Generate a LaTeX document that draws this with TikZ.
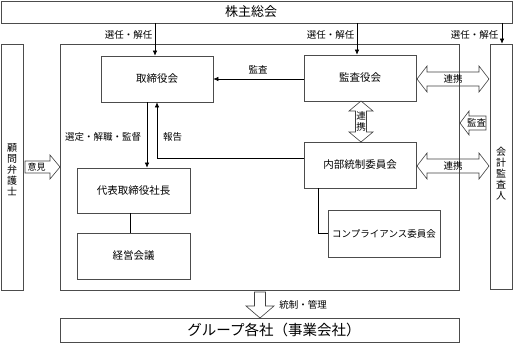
\documentclass[tikz,border=0pt]{standalone}
\usepackage{fontspec}
\newfontfamily\cjk{Noto Sans CJK JP}
\usetikzlibrary{arrows.meta}
\begin{document}
\begin{tikzpicture}[x=1pt,y=-1pt,
  box/.style={draw=black!70, line width=0.7pt, inner sep=0pt, font=\cjk\fontsize{10.5}{12}\selectfont},
  lbl/.style={font=\cjk\fontsize{9.5}{11}\selectfont, inner sep=0pt},
  vlbl/.style={font=\cjk\fontsize{10}{11}\selectfont, inner sep=0pt, align=center},
  conn/.style={line width=0.6pt, black},
  arr/.style={conn, -{Latex[length=5pt,width=4.5pt]}},
  blk/.style={draw=black!75, line width=0.6pt},
]
\useasboundingbox (0,0) rectangle (514,345);
% boxes
\node[box, minimum width=511pt, minimum height=22pt, font=\cjk\fontsize{13}{15}\selectfont] (sh) at (256.5,12) {\hspace*{-11pt}株主総会};
\node[box, minimum width=399pt, minimum height=246pt] (grp) at (259.5,167) {};
\node[box, minimum width=22pt, minimum height=246pt] (komon) at (12,167) {};
\node[box, minimum width=22pt, minimum height=245pt] (kaikei) at (501,166.5) {};
\node[box, minimum width=112pt, minimum height=46pt] (tori) at (157,79) {取締役会};
\node[box, minimum width=112pt, minimum height=46pt] (kansa) at (360,78) {監査役会};
\node[box, minimum width=113pt, minimum height=45pt] (daihyo) at (133.5,190.5) {代表取締役社長};
\node[box, minimum width=113pt, minimum height=46pt] (keiei) at (133.5,256) {経営会議};
\node[box, minimum width=112pt, minimum height=46pt] (naibu) at (360,165) {内部統制委員会};
\node[box, minimum width=112pt, minimum height=47pt, font=\cjk\fontsize{9.5}{11}\selectfont] (comp) at (384,233.5) {コンプライアンス委員会};
\node[box, minimum width=399pt, minimum height=24pt] (group) at (259.5,330) {};
\node[inner sep=0pt, font=\cjk\fontsize{14.5}{16}\selectfont] (grouptext) at (274,330) {グループ各社（事業会社）};
% vertical texts
\node[vlbl] (komontext) at (12,170) {顧\\問\\弁\\護\\士};
\node[vlbl] (kaikeitext) at (501,174) {会\\計\\監\\査\\人};
% connectors
\draw[arr] ([xshift=-2pt]tori.north |- sh.south) -- ([xshift=-2pt]tori.north);
\draw[arr] ([xshift=-3pt]kansa.north |- sh.south) -- ([xshift=-3pt]kansa.north);
\draw[arr] ([xshift=1pt]kaikei.north |- sh.south) -- ([xshift=1pt]kaikei.north);
\draw[arr] (kansa.west |- tori.east) -- (tori.east);
\draw[arr] ([xshift=-10pt]tori.south) -- ([xshift=-10pt]tori.south |- daihyo.north);
\draw[arr] ([yshift=7pt]naibu.west) -| (tori.south);
\draw[conn] ([xshift=-3.5pt]daihyo.south) -- ([xshift=-3.5pt]keiei.north);
\draw[conn] ([xshift=-42pt]naibu.south) |- (comp.west);
% labels
\node[lbl, anchor=east] (l1) at (152.5,35) {選任・解任};
\node[lbl, anchor=east] (l2) at (354.5,35) {選任・解任};
\node[lbl, anchor=east] (l3) at (498.5,35) {選任・解任};
\node[lbl] (lkansa) at (258,70) {監査};
\node[lbl] (lsentei) at (103,137) {選定・解職・監督};
\node[lbl] (lhoukoku) at (172.5,137) {報告};
\node[lbl] (ltousei) at (303,305) {統制・管理};
% block arrows
\draw[blk] (25,161) -- (50,161) -- (50,155) -- (60,167) -- (50,179) -- (50,173) -- (25,173) -- cycle;
\node[lbl, font=\cjk\fontsize{9}{10}\selectfont] (iken) at (36.5,167) {意見};
\draw[blk] (417,79) -- (427,66) -- (427,72) -- (479,72) -- (479,66) -- (489,79) -- (479,92) -- (479,86) -- (427,86) -- (427,92) -- cycle;
\node[lbl] (renkei1) at (453,79) {連携};
\draw[blk] (417,166) -- (427,153) -- (427,159) -- (479,159) -- (479,153) -- (489,166) -- (479,179) -- (479,173) -- (427,173) -- (427,179) -- cycle;
\node[lbl] (renkei2) at (453,166) {連携};
\draw[blk] (460,123) -- (469,111) -- (469,116) -- (486,116) -- (486,130) -- (469,130) -- (469,135) -- cycle;
\node[lbl] (kansa2) at (476.5,123) {監査};
\draw[blk] (361,101) -- (373,111) -- (366.5,111) -- (366.5,132) -- (373,132) -- (361,142) -- (349,132) -- (355.5,132) -- (355.5,111) -- (349,111) -- cycle;
\node[vlbl, font=\cjk\fontsize{9.5}{10.5}\selectfont] (renkei3) at (361,121.5) {連\\携};
\draw[blk] (254.5,292) -- (265.5,292) -- (265.5,306) -- (274,306) -- (260,318) -- (246,306) -- (254.5,306) -- cycle;
\end{tikzpicture}
\end{document}
